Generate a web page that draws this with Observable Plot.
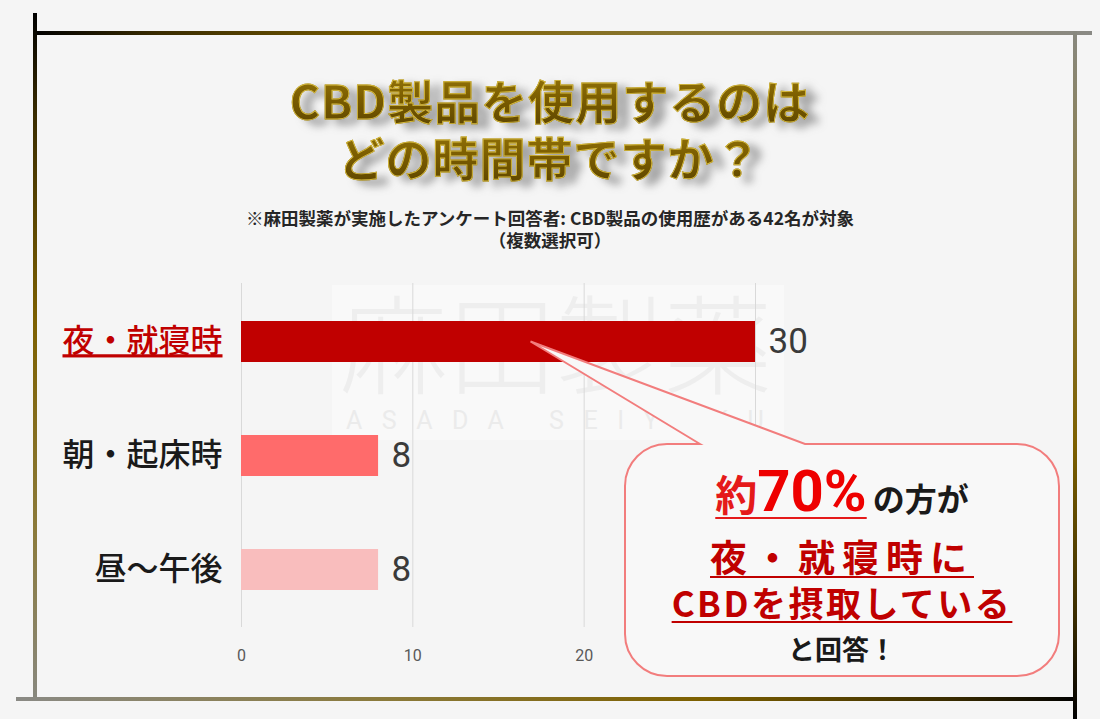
<!DOCTYPE html>
<html><head><meta charset="utf-8">
<script src="https://cdn.jsdelivr.net/npm/d3@7"></script>
<script src="https://cdn.jsdelivr.net/npm/@observablehq/plot@0.6"></script>
<style>
html,body{margin:0;padding:0;background:#f5f5f5;}
#root{position:relative;width:1100px;height:719px;overflow:hidden;background:#f5f5f5;font-family:"Noto Sans CJK JP",sans-serif;}
.abs{position:absolute;}
.tline{position:absolute;left:0;width:1100px;text-align:center;font-size:46px;font-weight:700;line-height:57px;letter-spacing:1px;white-space:nowrap;filter:drop-shadow(11px 5px 4px rgba(70,70,70,0.5));}
.tline span{background:linear-gradient(180deg,#9c7c0c 0%,#7a5c00 50%,#594200 100%);-webkit-background-clip:text;background-clip:text;color:transparent;-webkit-text-stroke:0.9px #d6ba3c;}
.note{position:absolute;left:0;width:1100px;text-align:center;font-size:17.5px;font-weight:700;line-height:22px;color:#262626;white-space:nowrap;}
</style></head><body><div id="root"></div>
<script>
// ---- data ----
const categories = ["夜・就寝時", "朝・起床時", "昼〜午後"];
const counts = [30, 8, 8];
const barColors = ["#c00000", "#ff6b6b", "#f9bdbd"];
const labelColors = ["#c00000", "#1a1a1a", "#1a1a1a"];
const xTicks = [0, 10, 20, 30];
const xDomain = [0, 30];
const titleLines = ["CBD製品を使用するのは", "どの時間帯ですか？"];
const noteLines = ["※麻田製薬が実施したアンケート回答者: CBD製品の使用歴がある42名が対象", "（複数選択可）"];
const watermarkMain = "麻田製薬";
const watermarkSub = "ASADA SEIYAKU";
const calloutPct = "70%";

const root = document.getElementById("root");

// ---- frame lines ----
function bar(l, t, w, h, grad) {
  const d = document.createElement("div");
  d.className = "abs";
  Object.assign(d.style, {left: l + "px", top: t + "px", width: w + "px", height: h + "px", background: grad});
  root.appendChild(d);
}
bar(33, 31, 1059, 4, "linear-gradient(90deg,#000 0%,#3a2c00 12%,#7d6000 35%,#8b7a3a 65%,#8a8a85 100%)");
bar(33, 13, 4, 688, "linear-gradient(180deg,#000 0%,#3a2c00 15%,#7d6000 45%,#8b7a3a 75%,#88887f 100%)");
bar(16, 697, 1061, 4, "linear-gradient(90deg,#8a8a85 0%,#8b7a3a 35%,#7d6000 65%,#3a2c00 88%,#000 100%)");
bar(1073, 31, 4, 688, "linear-gradient(180deg,#88887f 0%,#8b7a3a 30%,#7d6000 60%,#3a2c00 85%,#000 100%)");

// ---- title ----
titleLines.forEach((t, i) => {
  const f = document.createElement("div");
  f.className = "tline"; f.style.top = (71 + i * 57) + "px";
  const sp = document.createElement("span"); sp.textContent = t; f.appendChild(sp);
  root.appendChild(f);
});
noteLines.forEach((t, i) => {
  const n = document.createElement("div");
  n.className = "note"; n.style.top = (207 + i * 22) + "px"; n.textContent = t;
  root.appendChild(n);
});

// ---- watermark ----
const wm = document.createElement("div");
wm.className = "abs";
Object.assign(wm.style, {left: "332px", top: "285px", width: "452px", height: "155px", background: "#f9f9f9"});
const wm1 = document.createElement("div");
wm1.className = "abs";
Object.assign(wm1.style, {left: "8px", top: "4px", fontSize: "108px", lineHeight: "100px", color: "#eeeeee", fontWeight: "300", whiteSpace: "nowrap"});
wm1.textContent = watermarkMain;
const wm2 = document.createElement("div");
wm2.className = "abs";
Object.assign(wm2.style, {left: "14px", top: "122px", fontSize: "25px", lineHeight: "28px", color: "#ebebeb", letterSpacing: "19.5px", fontFamily: "Roboto, sans-serif", whiteSpace: "pre"});
wm2.textContent = watermarkSub;
wm.appendChild(wm1); wm.appendChild(wm2);
root.appendChild(wm);

// ---- chart ----
const data = categories.map((c, i) => ({label: c, value: counts[i], fill: barColors[i], labelFill: labelColors[i]}));
const plotTop = 270;
const chart = Plot.plot({
  width: 1100, height: 400,
  marginTop: 13, marginBottom: 43, marginLeft: 241, marginRight: 345,
  style: {background: "transparent", fontFamily: "Roboto, 'Noto Sans CJK JP', sans-serif", overflow: "visible"},
  x: {domain: xDomain, axis: null},
  y: {domain: categories, paddingInner: 0.643, paddingOuter: 0.3215, axis: null},
  color: {type: "identity"},
  marks: [
    Plot.gridX(xTicks, {stroke: "#d9d9d9", strokeOpacity: 1, strokeWidth: 1}),
    Plot.axisX(xTicks, {tickSize: 0, tickPadding: 22, fontSize: 16, fill: "#595959", label: null}),
    Plot.barX(data, {x: "value", y: "label", fill: "fill"}),
    Plot.text(data, {x: "value", y: "label", text: d => String(d.value), dx: 13, textAnchor: "start", fontSize: 35, fill: "#3a3a3a"}),
    Plot.text(data, {y: "label", text: "label", frameAnchor: "left", textAnchor: "end", dx: -19, fontSize: 32, fill: "labelFill", fontFamily: "'Noto Sans CJK JP'", fontWeight: 500})
  ]
});
chart.style.position = "absolute";
chart.style.left = "0px";
chart.style.top = plotTop + "px";
root.appendChild(chart);
d3.select(chart).selectAll("text").filter(function() { return this.textContent === categories[0]; })
  .style("text-decoration", "underline");

// ---- callout ----
const xs = chart.scale("x"), ys = chart.scale("y");
const tipX = xs.apply(16.9);
const tipY = plotTop + ys.apply(categories[0]) + ys.bandwidth / 2;
const L = 625, T = 444, R = 1059, B = 676, r = 42, p1 = 700, p2 = 805;
const ov = d3.select(root).append("svg").attr("width", 1100).attr("height", 719)
  .style("position", "absolute").style("left", 0).style("top", 0)
  .style("font-family", "'Noto Sans CJK JP', sans-serif");
ov.append("path")
  .attr("d", `M${p1},${T}L${tipX},${tipY}L${p2},${T}H${R - r}A${r},${r} 0 0 1 ${R},${T + r}V${B - r}A${r},${r} 0 0 1 ${R - r},${B}H${L + r}A${r},${r} 0 0 1 ${L},${B - r}V${T + r}A${r},${r} 0 0 1 ${L + r},${T}Z`)
  .attr("fill", "#f8f8f8").attr("stroke", "#f27d7d").attr("stroke-width", 2);

const cx = (L + R) / 2;
function underline(textSel, i0, i1, y, color) {
  const n = textSel.node();
  const x0 = n.getStartPositionOfChar(i0).x, x1 = n.getEndPositionOfChar(i1).x;
  ov.append("line").attr("x1", x0).attr("x2", x1).attr("y1", y).attr("y2", y)
    .attr("stroke", color).attr("stroke-width", 2.2);
}
const t1 = ov.append("text").attr("x", cx).attr("y", 511).attr("text-anchor", "middle").attr("font-weight", 700);
t1.append("tspan").attr("fill", "#e51a1a").attr("font-size", 42).text("約");
t1.append("tspan").attr("fill", "#ee0000").attr("font-size", 58).attr("font-family", "Roboto, sans-serif").text(calloutPct);
t1.append("tspan").attr("fill", "#1a1a1a").attr("font-size", 32).attr("dx", 6).text("の方が");
underline(t1, 0, 3, 518, "#e51a1a");

const t2 = ov.append("text").attr("x", cx).attr("y", 572).attr("text-anchor", "middle")
  .attr("font-weight", 700).attr("font-size", 37).attr("letter-spacing", 7).attr("fill", "#c00000").text("夜・就寝時に");
underline(t2, 0, 5, 577, "#c00000");

const t3 = ov.append("text").attr("x", cx).attr("y", 617).attr("text-anchor", "middle")
  .attr("font-weight", 700).attr("font-size", 35).attr("letter-spacing", 2.5).attr("fill", "#c00000").text("CBDを摂取している");
underline(t3, 0, 9, 622, "#c00000");

ov.append("text").attr("x", cx).attr("y", 660).attr("text-anchor", "middle")
  .attr("font-weight", 700).attr("font-size", 27).attr("fill", "#1a1a1a").text("と回答！");
</script></body></html>
